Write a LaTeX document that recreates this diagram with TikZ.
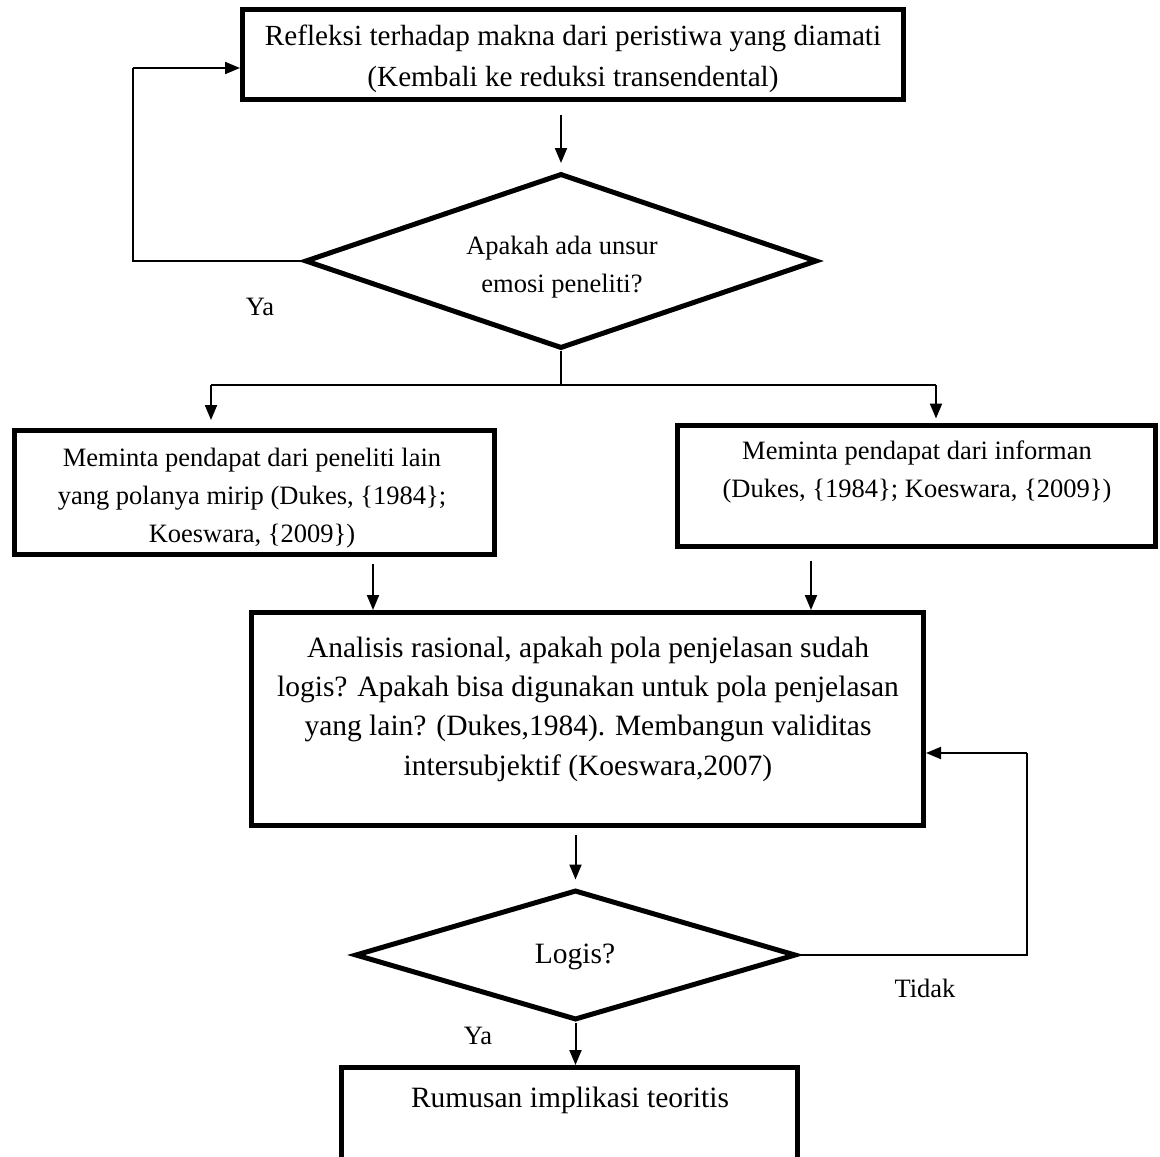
\documentclass[tikz,border=0pt]{standalone}
\usepackage{fontspec}
\setmainfont{Liberation Serif}
\usetikzlibrary{shapes.geometric,arrows.meta,calc}
\begin{document}
\begin{tikzpicture}[x=1pt,y=-1pt,
  box/.style={draw,line width=5pt,rectangle,inner sep=0pt},
  dec/.style={draw,line width=5pt,diamond,inner sep=0pt,shape aspect=3},
  txt/.style={align=center,inner sep=0pt},
  small/.style={font=\fontsize{26.5}{38}\selectfont},
  topf/.style={font=\fontsize{29.2}{41}\selectfont},
  big/.style={font=\fontsize{29.5}{39.3}\selectfont},
  conn/.style={line width=2pt},
  arr/.style={line width=2pt,-{Triangle[length=15pt,width=12pt]}}]
\clip (0,0) rectangle (1160,1157);
\useasboundingbox (0,0) rectangle (1160,1157);
% shapes
\node[box,minimum width=661pt,minimum height=90pt] (top) at (573,54.5) {};
\node[dec,minimum width=512pt,minimum height=175pt] (d1) at (561,261) {};
\node[box,minimum width=480pt,minimum height=124pt] (lbox) at (254.5,492.5) {};
\node[box,minimum width=478pt,minimum height=121pt] (rbox) at (916.5,485.5) {};
\node[box,minimum width=672pt,minimum height=213pt] (mid) at (587.5,719) {};
\node[dec,minimum width=441pt,minimum height=130pt] (d2) at (575.5,955) {};
\node[box,minimum width=456pt,minimum height=130pt] (bot) at (569.5,1132.5) {};
% texts
\node[txt,topf] (toptxt) at (573,59)
  {Refleksi terhadap makna dari peristiwa yang diamati\\(Kembali ke reduksi transendental)};
\node[txt,small] (d1txt) at (562,267) {Apakah ada unsur\\emosi peneliti?};
\node[txt,small] (ltxt) at (252,498)
  {Meminta pendapat dari peneliti lain\\yang polanya mirip (Dukes, \{1984\};\\Koeswara, \{2009\})};
\node[txt,small] (rtxt) at (917,472) {Meminta pendapat dari informan\\(Dukes, \{1984\}; Koeswara, \{2009\})};
\node[txt,big] (mtxt) at (588,709) {Analisis rasional, apakah pola penjelasan sudah\\logis? Apakah bisa digunakan untuk pola penjelasan\\yang lain? (Dukes,1984). Membangun validitas\\intersubjektif (Koeswara,2007)};
\node[txt,big] (d2txt) at (575,957) {Logis?};
\node[txt,big] (btxt) at (570,1100) {Rumusan implikasi teoritis};
\node[txt,small] (ya1) at (260,307) {Ya};
\node[txt,small] (ya2) at (478,1036) {Ya};
\node[txt,small] (tidak) at (925,988) {Tidak};
% coordinates
\coordinate (c1) at (133,0);
\coordinate (bl) at (211,385);
\coordinate (br) at (936,385);
\coordinate (la) at (373,0);
\coordinate (ra) at (811,0);
\coordinate (c2) at (1027,0);
% connectors
\draw[arr,shorten <=13pt,shorten >=8pt] (top.south -| d1.north) -- (d1.north);
\draw[conn] (d1.west) -- (d1.west -| c1) -- ([yshift=-13.5pt]top.west -| c1);
\draw[arr] ([yshift=-13.5pt]top.west -| c1) -- ([yshift=-13.5pt]top.west);
\draw[conn] (d1.south) -- (d1.south |- bl);
\draw[conn] (bl) -- (br);
\draw[arr,shorten >=8pt] (bl) -- (bl |- lbox.north);
\draw[arr,shorten >=4pt] (br) -- (br |- rbox.north);
\draw[arr,shorten <=7pt] (lbox.south -| la) -- (mid.north -| la);
\draw[arr,shorten <=12pt] (rbox.south -| ra) -- (mid.north -| ra);
\draw[arr,shorten <=7pt,shorten >=8pt] (mid.south -| d2.north) -- (d2.north);
\draw[conn] (d2.east) -- (d2.east -| c2) -- ([yshift=-34pt]mid.east -| c2);
\draw[arr] ([yshift=-34pt]mid.east -| c2) -- ([yshift=-34pt]mid.east);
\draw[arr] (d2.south) -- (bot.north -| d2.south);
\end{tikzpicture}
\end{document}
